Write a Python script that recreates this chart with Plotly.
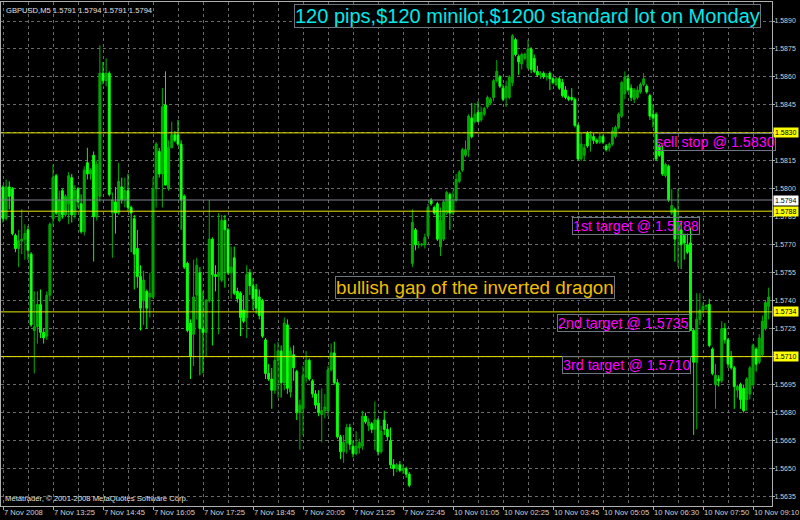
import plotly.graph_objects as go

# ---------------- data (GBPUSD M5) ----------------
opens = [
1.5801,1.5784,1.5801,1.5800,1.5775,1.5768,1.5772,1.5773,1.5778,1.5765,
1.5724,1.5726,1.5738,1.5723,1.5721,1.5743,1.5784,1.5807,1.5783,1.5799,
1.5786,1.5792,1.5806,1.5786,1.5800,1.5792,1.5777,1.5814,1.5808,1.5818,
1.5785,1.5796,1.5862,1.5858,1.5862,1.5787,1.5793,1.5787,1.5801,1.5794,
1.5799,1.5790,1.5784,1.5768,1.5753,1.5740,1.5745,1.5742,1.5742,1.5800,
1.5820,1.5808,1.5845,1.5800,1.5822,1.5829,1.5829,1.5824,1.5796,1.5760,
1.5728,1.5722,1.5743,1.5755,1.5725,1.5723,1.5740,1.5773,1.5754,1.5753,
1.5751,1.5783,1.5778,1.5755,1.5763,1.5745,1.5744,1.5735,1.5731,1.5755,
1.5748,1.5746,1.5742,1.5740,1.5719,1.5701,1.5698,1.5692,1.5708,1.5713,
1.5696,1.5727,1.5691,1.5711,1.5702,1.5680,1.5682,1.5699,1.5708,1.5697,
1.5690,1.5685,1.5679,1.5681,1.5681,1.5703,1.5712,1.5696,1.5667,1.5659,
1.5664,1.5672,1.5662,1.5658,1.5661,1.5662,1.5678,1.5673,1.5674,1.5671,
1.5676,1.5659,1.5676,1.5671,1.5665,1.5652,1.5650,1.5652,1.5649,1.5650,
1.5647,1.5760,1.5778,1.5770,1.5770,1.5770,1.5775,1.5794,1.5790,1.5792,
1.5769,1.5773,1.5787,1.5797,1.5787,1.5794,1.5804,1.5810,1.5818,1.5821,
1.5838,1.5836,1.5841,1.5837,1.5840,1.5844,1.5846,1.5849,1.5858,1.5860,
1.5854,1.5849,1.5849,1.5857,1.5880,1.5871,1.5867,1.5870,1.5865,1.5875,
1.5870,1.5863,1.5861,1.5862,1.5860,1.5862,1.5859,1.5856,1.5859,1.5857,
1.5853,1.5849,1.5849,1.5848,1.5834,1.5816,1.5818,1.5830,1.5827,1.5828,
1.5826,1.5825,1.5828,1.5823,1.5822,1.5824,1.5828,1.5833,1.5839,1.5851,
1.5859,1.5854,1.5848,1.5849,1.5852,1.5856,1.5855,1.5850,1.5840,1.5840,
1.5823,1.5820,1.5807,1.5812,1.5787,1.5789,1.5776,1.5778,1.5775,1.5770,
1.5771,1.5724,1.5707,1.5730,1.5735,1.5737,1.5738,1.5714,1.5695,1.5698,
1.5697,1.5725,1.5719,1.5710,1.5704,1.5692,1.5695,1.5693,1.5687,1.5690,
1.5695,1.5714,1.5707,1.5711,1.5725,1.5737]

highs = [
1.5802,1.5805,1.5804,1.5801,1.5776,1.5778,1.5789,1.5781,1.5780,1.5766,
1.5745,1.5745,1.5746,1.5725,1.5745,1.5782,1.5813,1.5808,1.5799,1.5800,
1.5797,1.5809,1.5808,1.5802,1.5801,1.5797,1.5812,1.5822,1.5811,1.5820,
1.5815,1.5877,1.5868,1.5870,1.5863,1.5798,1.5801,1.5814,1.5806,1.5806,
1.5808,1.5791,1.5786,1.5778,1.5759,1.5756,1.5746,1.5755,1.5806,1.5825,
1.5822,1.5854,1.5863,1.5826,1.5836,1.5831,1.5837,1.5826,1.5797,1.5761,
1.5730,1.5762,1.5763,1.5758,1.5745,1.5741,1.5794,1.5774,1.5759,1.5787,
1.5786,1.5786,1.5779,1.5769,1.5769,1.5747,1.5745,1.5743,1.5759,1.5757,
1.5752,1.5749,1.5746,1.5741,1.5720,1.5706,1.5704,1.5717,1.5718,1.5716,
1.5731,1.5730,1.5715,1.5716,1.5703,1.5687,1.5705,1.5713,1.5709,1.5698,
1.5692,1.5692,1.5693,1.5690,1.5705,1.5717,1.5718,1.5698,1.5668,1.5668,
1.5674,1.5674,1.5665,1.5670,1.5666,1.5681,1.5680,1.5677,1.5675,1.5686,
1.5677,1.5673,1.5681,1.5674,1.5672,1.5655,1.5653,1.5654,1.5652,1.5651,
1.5648,1.5789,1.5779,1.5772,1.5771,1.5776,1.5792,1.5795,1.5791,1.5793,
1.5790,1.5794,1.5799,1.5798,1.5799,1.5808,1.5810,1.5822,1.5826,1.5840,
1.5846,1.5846,1.5847,1.5844,1.5844,1.5850,1.5849,1.5859,1.5869,1.5861,
1.5856,1.5858,1.5861,1.5883,1.5881,1.5872,1.5873,1.5873,1.5880,1.5876,
1.5872,1.5866,1.5863,1.5863,1.5862,1.5863,1.5860,1.5860,1.5860,1.5859,
1.5855,1.5850,1.5854,1.5849,1.5835,1.5830,1.5824,1.5831,1.5831,1.5830,
1.5827,1.5830,1.5829,1.5824,1.5825,1.5833,1.5834,1.5841,1.5858,1.5863,
1.5861,1.5856,1.5854,1.5855,1.5857,1.5862,1.5856,1.5851,1.5845,1.5841,
1.5824,1.5823,1.5814,1.5813,1.5800,1.5790,1.5800,1.5783,1.5776,1.5776,
1.5779,1.5725,1.5744,1.5744,1.5739,1.5738,1.5741,1.5715,1.5706,1.5700,
1.5729,1.5728,1.5720,1.5713,1.5705,1.5695,1.5696,1.5695,1.5699,1.5705,
1.5717,1.5715,1.5722,1.5732,1.5740,1.5747]

lows = [
1.5782,1.5783,1.5789,1.5775,1.5766,1.5758,1.5765,1.5762,1.5762,1.5726,
1.5701,1.5717,1.5720,1.5717,1.5719,1.5740,1.5780,1.5786,1.5782,1.5784,
1.5785,1.5781,1.5782,1.5784,1.5790,1.5776,1.5775,1.5805,1.5805,1.5761,
1.5783,1.5793,1.5856,1.5855,1.5796,1.5763,1.5776,1.5786,1.5792,1.5790,
1.5788,1.5766,1.5746,1.5747,1.5724,1.5727,1.5725,1.5731,1.5741,1.5790,
1.5806,1.5790,1.5802,1.5799,1.5822,1.5825,1.5823,1.5778,1.5757,1.5723,
1.5698,1.5705,1.5730,1.5700,1.5701,1.5710,1.5739,1.5716,1.5745,1.5722,
1.5750,1.5747,1.5754,1.5741,1.5743,1.5739,1.5721,1.5728,1.5720,1.5743,
1.5735,1.5733,1.5730,1.5720,1.5698,1.5697,1.5682,1.5690,1.5688,1.5688,
1.5692,1.5690,1.5688,1.5697,1.5676,1.5660,1.5668,1.5696,1.5697,1.5688,
1.5682,1.5678,1.5664,1.5677,1.5678,1.5702,1.5695,1.5666,1.5655,1.5653,
1.5658,1.5660,1.5656,1.5657,1.5658,1.5660,1.5674,1.5670,1.5669,1.5660,
1.5657,1.5658,1.5668,1.5665,1.5650,1.5646,1.5648,1.5648,1.5647,1.5645,
1.5640,1.5758,1.5767,1.5768,1.5769,1.5768,1.5774,1.5791,1.5786,1.5772,
1.5764,1.5772,1.5786,1.5778,1.5786,1.5793,1.5803,1.5809,1.5817,1.5817,
1.5827,1.5835,1.5836,1.5836,1.5839,1.5843,1.5845,1.5847,1.5857,1.5854,
1.5847,1.5844,1.5848,1.5855,1.5871,1.5861,1.5864,1.5869,1.5864,1.5862,
1.5862,1.5860,1.5859,1.5859,1.5858,1.5853,1.5856,1.5855,1.5853,1.5849,
1.5848,1.5847,1.5847,1.5833,1.5815,1.5815,1.5815,1.5822,1.5820,1.5824,
1.5824,1.5824,1.5824,1.5820,1.5820,1.5823,1.5827,1.5832,1.5838,1.5848,
1.5852,1.5847,1.5846,1.5848,1.5851,1.5855,1.5851,1.5837,1.5833,1.5815,
1.5817,1.5807,1.5806,1.5793,1.5786,1.5761,1.5758,1.5757,1.5762,1.5765,
1.5724,1.5668,1.5671,1.5727,1.5733,1.5735,1.5715,1.5700,1.5682,1.5694,
1.5696,1.5717,1.5704,1.5703,1.5682,1.5688,1.5682,1.5680,1.5681,1.5687,
1.5694,1.5702,1.5706,1.5710,1.5724,1.5730]

closes = [
1.5784,1.5801,1.5796,1.5776,1.5768,1.5772,1.5773,1.5776,1.5767,1.5727,
1.5726,1.5738,1.5723,1.5720,1.5743,1.5781,1.5806,1.5787,1.5794,1.5786,
1.5796,1.5807,1.5786,1.5799,1.5793,1.5777,1.5810,1.5808,1.5810,1.5785,
1.5813,1.5862,1.5858,1.5862,1.5797,1.5794,1.5787,1.5804,1.5794,1.5799,
1.5790,1.5787,1.5765,1.5753,1.5736,1.5751,1.5736,1.5744,1.5800,1.5824,
1.5808,1.5844,1.5802,1.5822,1.5829,1.5826,1.5824,1.5794,1.5758,1.5724,
1.5710,1.5742,1.5759,1.5725,1.5723,1.5740,1.5773,1.5754,1.5753,1.5755,
1.5783,1.5778,1.5755,1.5758,1.5744,1.5741,1.5731,1.5729,1.5754,1.5748,
1.5741,1.5736,1.5732,1.5721,1.5701,1.5698,1.5692,1.5708,1.5713,1.5696,
1.5728,1.5693,1.5713,1.5704,1.5680,1.5684,1.5700,1.5708,1.5698,1.5690,
1.5684,1.5680,1.5681,1.5683,1.5703,1.5712,1.5696,1.5667,1.5659,1.5664,
1.5672,1.5663,1.5658,1.5662,1.5664,1.5678,1.5675,1.5675,1.5671,1.5676,
1.5659,1.5670,1.5671,1.5667,1.5652,1.5650,1.5652,1.5649,1.5650,1.5647,
1.5641,1.5782,1.5770,1.5770,1.5770,1.5774,1.5790,1.5792,1.5787,1.5773,
1.5783,1.5793,1.5798,1.5787,1.5794,1.5805,1.5809,1.5821,1.5821,1.5839,
1.5828,1.5840,1.5836,1.5841,1.5843,1.5849,1.5848,1.5858,1.5863,1.5855,
1.5848,1.5855,1.5860,1.5882,1.5872,1.5868,1.5872,1.5872,1.5875,1.5864,
1.5863,1.5861,1.5862,1.5860,1.5860,1.5859,1.5857,1.5859,1.5854,1.5850,
1.5849,1.5848,1.5848,1.5834,1.5816,1.5824,1.5822,1.5823,1.5829,1.5826,
1.5825,1.5828,1.5825,1.5821,1.5824,1.5831,1.5833,1.5840,1.5857,1.5860,
1.5853,1.5849,1.5853,1.5853,1.5856,1.5859,1.5852,1.5839,1.5838,1.5816,
1.5818,1.5808,1.5813,1.5794,1.5791,1.5773,1.5782,1.5770,1.5771,1.5766,
1.5724,1.5707,1.5730,1.5735,1.5737,1.5737,1.5716,1.5701,1.5700,1.5697,
1.5725,1.5719,1.5706,1.5704,1.5694,1.5694,1.5687,1.5681,1.5698,1.5704,
1.5716,1.5706,1.5720,1.5729,1.5739,1.5742]

time_labels = ["7 Nov 2008", "7 Nov 13:25", "7 Nov 14:45", "7 Nov 16:05",
               "7 Nov 17:25", "7 Nov 18:45", "7 Nov 20:05", "7 Nov 21:25",
               "7 Nov 22:45", "10 Nov 01:05", "10 Nov 02:25", "10 Nov 03:45",
               "10 Nov 05:05", "10 Nov 06:30", "10 Nov 07:50", "10 Nov 09:10"]
bars_per_label = 16
price_ticks = [1.5635, 1.5650, 1.5665, 1.5680, 1.5695, 1.5710, 1.5725, 1.5740,
               1.5755, 1.5770, 1.5785, 1.5800, 1.5815, 1.5830, 1.5845, 1.5860,
               1.5875, 1.5890]
target_levels = [1.5830, 1.5788, 1.5734, 1.5710]
bid_level = 1.5794
header_text = "GBPUSD,M5 1.5791 1.5794 1.5791 1.5794"

# ---------------- styling ----------------
FONT = "Liberation Sans, Arial, sans-serif"
BULL_FILL, BULL_LINE = "#007800", "#00B000"
BEAR_FILL, BEAR_LINE = "#80FF80", "#00FF00"
GRID = "#6A6A6A"
AXIS_TXT = "#D0D0D0"
YELLOW = "#E8E800"

n = len(closes)
idx = list(range(n))
bull = [i for i in idx if closes[i] >= opens[i]]
bear = [i for i in idx if closes[i] < opens[i]]

fig = go.Figure()


def wick_xy(ids):
    xs, ys = [], []
    for i in ids:
        xs += [i, i, None]
        ys += [lows[i], highs[i], None]
    return xs, ys


for ids, col in ((bull, BULL_LINE), (bear, BEAR_LINE)):
    wx, wy = wick_xy(ids)
    fig.add_trace(go.Scatter(x=wx, y=wy, mode="lines",
                             line=dict(color=col, width=1), hoverinfo="skip"))

MIN_BODY = 0.00004
for ids, fill, line in ((bull, BULL_FILL, BULL_LINE), (bear, BEAR_FILL, BEAR_LINE)):
    base = [min(opens[i], closes[i]) for i in ids]
    height = [max(abs(closes[i] - opens[i]), MIN_BODY) for i in ids]
    fig.add_trace(go.Bar(x=ids, y=height, base=base, width=0.62,
                         marker=dict(color=fill, line=dict(color=line, width=1)),
                         hoverinfo="skip"))

# horizontal level lines
for lv in target_levels:
    fig.add_shape(type="line", xref="paper", x0=0, x1=1, yref="y", y0=lv, y1=lv,
                  line=dict(color=YELLOW, width=1), layer="above")
fig.add_shape(type="line", xref="paper", x0=0, x1=1, yref="y", y0=bid_level, y1=bid_level,
              line=dict(color="#7E868F", width=1), layer="above")

ann = []
# text objects
ann.append(dict(text="120 pips,$120 minilot,$1200 standard lot on Monday",
                xref="paper", yref="paper", x=0.380, y=0.996, xanchor="left", yanchor="top",
                showarrow=False, font=dict(family=FONT, size=20, color="#00E8E8"),
                bgcolor="#000000", bordercolor="#6C7480", borderwidth=1, borderpad=0))
ann.append(dict(text="bullish gap of the inverted dragon",
                xref="paper", yref="paper", x=0.4332, y=0.4563, xanchor="left", yanchor="top",
                showarrow=False, font=dict(family=FONT, size=18.8, color="#F0BE00"),
                bgcolor="#000000", bordercolor="#6C7480", borderwidth=1, borderpad=0))
magenta_labels = [("sell stop @ 1.5830", 0.8485, 0.740),
                  ("1st target @ 1.5788", 0.7406, 0.5734),
                  ("2nd target @ 1.5735", 0.7211, 0.381),
                  ("3rd target @ 1.5710", 0.7276, 0.2976)]
for txt, px, py in magenta_labels:
    ann.append(dict(text=txt, xref="paper", yref="paper", x=px, y=py,
                    xanchor="left", yanchor="top", showarrow=False,
                    font=dict(family=FONT, size=14.3, color="#FF00FF"),
                    bgcolor="rgba(0,0,0,0)", bordercolor="#6C7480", borderwidth=1, borderpad=0))

# right-axis price boxes for the lines
for lv in target_levels:
    ann.append(dict(text=f"{lv:.4f}", xref="paper", yref="y", x=1, y=lv, xanchor="left",
                    yanchor="middle", xshift=1, showarrow=False,
                    font=dict(family=FONT, size=7, color="#000000"),
                    bgcolor="#FFFF00", borderpad=1))
ann.append(dict(text=f"{bid_level:.4f}", xref="paper", yref="y", x=1, y=bid_level, xanchor="left",
                yanchor="middle", xshift=1, showarrow=False,
                font=dict(family=FONT, size=7, color="#000000"),
                bgcolor="#FFFFFF", borderpad=1))
# header and copyright
ann.append(dict(text=header_text, xref="paper", yref="paper", x=0, y=1, xanchor="left",
                yanchor="top", xshift=3, yshift=-2, showarrow=False,
                font=dict(family=FONT, size=7.6, color="#E0E0E0")))
ann.append(dict(text="Metatrader, © 2001-2008 MetaQuotes Software Corp.", xref="paper",
                yref="paper", x=0, y=0, xanchor="left", yanchor="bottom", xshift=2, yshift=1,
                showarrow=False, font=dict(family=FONT, size=7.7, color="#E0E0E0")))

x_tickvals = [k * bars_per_label for k in range(len(time_labels))]

fig.update_layout(
    width=800, height=520,
    margin=dict(l=1, r=28, t=2, b=14),
    paper_bgcolor="#000000", plot_bgcolor="#000000",
    showlegend=False, hovermode=False, barmode="overlay",
    annotations=ann,
    font=dict(family=FONT),
)
fig.update_xaxes(range=[-0.64, 246.08], tickvals=x_tickvals, ticktext=time_labels,
                 tickangle=0, automargin=False,
                 ticks="outside", ticklen=3, tickcolor="#B0B0B0",
                 ticklabelposition="outside right", ticklabelstandoff=-1,
                 ticklabeloverflow="allow",
                 tickfont=dict(family=FONT, size=7.6, color=AXIS_TXT),
                 showgrid=True, gridcolor=GRID, griddash="3px,3px", gridwidth=1,
                 minor=dict(dtick=8, tick0=0, showgrid=True, gridcolor=GRID,
                            griddash="3px,3px", ticks=""),
                 showline=True, linecolor="#B0B0B0", mirror=True, zeroline=False)
fig.update_yaxes(range=[1.562990, 1.590019], side="right", tickvals=price_ticks,
                 ticktext=[f"{v:.4f}" for v in price_ticks],
                 automargin=False,
                 ticks="outside", ticklen=2, tickcolor="#B0B0B0", ticklabelstandoff=-2,
                 tickfont=dict(family=FONT, size=7, color=AXIS_TXT),
                 showgrid=True, gridcolor=GRID, griddash="3px,3px", gridwidth=1,
                 showline=True, linecolor="#B0B0B0", mirror=True, zeroline=False)

fig.write_html("out.html", config={"displayModeBar": False},
               post_script="document.body.style.margin='0';document.body.style.overflow='hidden';")
